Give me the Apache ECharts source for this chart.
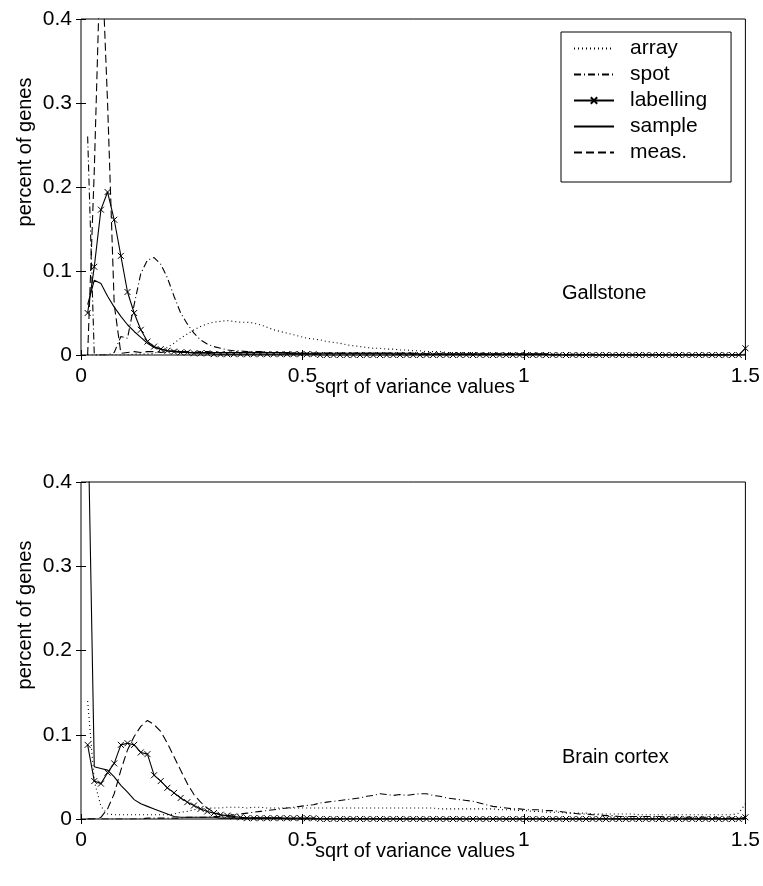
<!DOCTYPE html>
<html><head><meta charset="utf-8">
<script src="https://cdn.jsdelivr.net/npm/echarts@6/dist/echarts.min.js"></script>
<style>html,body{margin:0;padding:0;background:#fff}#c{width:763px;height:886px}</style>
</head><body><div id="c"></div>
<script>
// x positions of the histogram bins
const xGrid = [
0.015,0.03,0.045,0.06,0.075,0.09,0.105,0.12,0.135,0.15,
0.165,0.18,0.195,0.21,0.225,0.24,0.255,0.27,0.285,0.3,
0.315,0.33,0.345,0.36,0.375,0.39,0.405,0.42,0.435,0.45,
0.465,0.48,0.495,0.51,0.525,0.54,0.555,0.57,0.585,0.6,
0.615,0.63,0.645,0.66,0.675,0.69,0.705,0.72,0.735,0.75,
0.765,0.78,0.795,0.81,0.825,0.84,0.855,0.87,0.885,0.9,
0.915,0.93,0.945,0.96,0.975,0.99,1.005,1.02,1.035,1.05,
1.065,1.08,1.095,1.11,1.125,1.14,1.155,1.17,1.185,1.2,
1.215,1.23,1.245,1.26,1.275,1.29,1.305,1.32,1.335,1.35,
1.365,1.38,1.395,1.41,1.425,1.44,1.455,1.47,1.485,1.5];

const seriesNames = ['array','spot','labelling','sample','meas.'];
const panelTitles = ['Gallstone', 'Brain cortex'];
const xTitle = 'sqrt of variance values';
const yTitle = 'percent of genes';

// ---- Gallstone ----
const gallArray = [
0,0,0,0,0,0,0,0.001,0.001,0.001,
0.002,0.005,0.009,0.014,0.020,0.025,0.030,0.034,0.037,0.039,
0.040,0.041,0.040,0.039,0.039,0.038,0.036,0.033,0.030,0.028,
0.026,0.024,0.022,0.020,0.019,0.018,0.016,0.015,0.014,0.012,
0.011,0.010,0.009,0.008,0.008,0.007,0.007,0.006,0.006,0.005,
0.005,0.004,0.004,0.004,0.003,0.003,0.003,0.003,0.003,0.002,
0.002,0.002,0.002,0.002,0.002,0.001,0.001,0.001,0.001,0.001,
0.001,0.001,0.001,0.001,0.001,0.001,0.001,0,0,0,
0,0,0,0,0,0,0,0,0,0,
0,0,0,0,0,0,0,0,0,0.001];
const gallSpot = [
0.260,0,0,0,0.003,0.022,0.020,0.060,0.097,0.113,
0.116,0.108,0.092,0.070,0.050,0.037,0.026,0.018,0.013,0.010,
0.008,0.006,0.005,0.005,0.004,0.004,0.004,0.003,0.003,0.003,
0.003,0.003,0.002,0.002,0.002,0.002,0.002,0.002,0.002,0.002,
0.002,0.002,0.002,0.002,0.002,0.002,0.001,0.001,0.001,0.001,
0.001,0.001,0.001,0.001,0.001,0.001,0.001,0.001,0.001,0.001,
0.001,0.001,0.001,0.001,0.001,0.001,0.001,0.001,0.001,0.001,
0,0,0,0,0,0,0,0,0,0,
0,0,0,0,0,0,0,0,0,0,
0,0,0,0,0,0,0,0,0,0];
const gallLabel = [
0.050,0.105,0.173,0.194,0.161,0.118,0.075,0.050,0.030,0.016,
0.010,0.007,0.005,0.004,0.003,0.003,0.002,0.002,0.002,0.001,
0.001,0.001,0.001,0.001,0.001,0.001,0.001,0.001,0.001,0.001,
0.001,0.001,0.001,0.001,0.001,0,0,0,0,0,
0,0,0,0,0,0,0,0,0,0,
0,0,0,0,0,0,0,0,0,0,
0,0,0,0,0,0,0,0,0,0,
0,0,0,0,0,0,0,0,0,0,
0,0,0,0,0,0,0,0,0,0,
0,0,0,0,0,0,0,0,0,0.008];
const gallSample = [
0.060,0.089,0.085,0.070,0.057,0.046,0.036,0.028,0.021,0.014,
0.009,0.007,0.005,0.004,0.004,0.003,0.003,0.003,0.003,0.003,
0.003,0.003,0.003,0.003,0.003,0.003,0.003,0.003,0.003,0.003,
0.002,0.002,0.002,0.002,0.002,0.002,0.002,0.002,0.002,0.002,
0.002,0.002,0.002,0.002,0.002,0.002,0.002,0.002,0.002,0.002,
0.001,0.001,0.001,0.001,0.001,0.001,0.001,0.001,0.001,0.001,
0.001,0.001,0.001,0.001,0.001,0.001,0.001,0.001,0.001,0.001,
0,0,0,0,0,0,0,0,0,0,
0,0,0,0,0,0,0,0,0,0,
0,0,0,0,0,0,0,0,0,0];
const gallMeas = [
0,0.220,0.500,0.300,0.060,0.002,0.003,0.004,0.003,0.004,
0.004,0.003,0.004,0.005,0.004,0.004,0.003,0.004,0.004,0.003,
0.003,0.003,0.003,0.003,0.003,0.003,0.003,0.003,0.003,0.003,
0.002,0.002,0.002,0.002,0.002,0.002,0.002,0.002,0.002,0.002,
0.002,0.002,0.002,0.002,0.002,0.002,0.002,0.002,0.002,0.002,
0.001,0.001,0.001,0.001,0.001,0.001,0.001,0.001,0.001,0.001,
0.001,0.001,0.001,0.001,0.001,0.001,0.001,0.001,0.001,0.001,
0,0,0,0,0,0,0,0,0,0,
0,0,0,0,0,0,0,0,0,0,
0,0,0,0,0,0,0,0,0,0];

// ---- Brain cortex ----
const brainArray = [
0.140,0.045,0.015,0.006,0.005,0.005,0.005,0.005,0.005,0.005,
0.005,0.005,0.005,0.006,0.008,0.009,0.011,0.012,0.013,0.013,
0.013,0.014,0.014,0.014,0.013,0.014,0.014,0.013,0.013,0.013,
0.013,0.013,0.013,0.013,0.013,0.013,0.013,0.013,0.013,0.013,
0.013,0.013,0.013,0.013,0.013,0.013,0.013,0.013,0.013,0.013,
0.013,0.013,0.013,0.012,0.012,0.012,0.012,0.012,0.012,0.012,
0.012,0.012,0.011,0.011,0.011,0.010,0.010,0.009,0.009,0.008,
0.008,0.008,0.007,0.007,0.007,0.007,0.006,0.006,0.006,0.006,
0.006,0.006,0.006,0.005,0.005,0.005,0.005,0.005,0.005,0.005,
0.005,0.005,0.005,0.005,0.005,0.005,0.005,0.005,0.007,0.018];
const brainSpot = [
0,0,0,0,0,0,0,0,0,0.001,
0.001,0.001,0.001,0.001,0.001,0.002,0.002,0.002,0.002,0.003,
0.003,0.004,0.005,0.006,0.007,0.008,0.009,0.010,0.011,0.012,
0.013,0.014,0.015,0.016,0.017,0.019,0.020,0.021,0.022,0.023,
0.024,0.025,0.027,0.028,0.030,0.029,0.028,0.029,0.028,0.029,
0.030,0.030,0.028,0.027,0.025,0.024,0.023,0.022,0.021,0.019,
0.017,0.015,0.014,0.013,0.012,0.012,0.011,0.011,0.011,0.010,
0.010,0.009,0.008,0.007,0.006,0.006,0.005,0.005,0.004,0.004,
0.003,0.003,0.003,0.003,0.003,0.003,0.003,0.002,0.002,0.002,
0.002,0.002,0.002,0.002,0.002,0.001,0.001,0.001,0.001,0.001];
const brainLabel = [
0.088,0.045,0.042,0.055,0.066,0.088,0.090,0.088,0.079,0.077,
0.052,0.045,0.037,0.031,0.025,0.020,0.016,0.012,0.009,0.007,
0.005,0.004,0.003,0.002,0.001,0.001,0.001,0.001,0.001,0.001,
0.001,0.001,0.001,0.001,0.001,0,0,0,0,0,
0,0,0,0,0,0,0,0,0,0,
0,0,0,0,0,0,0,0,0,0,
0,0,0,0,0,0,0,0,0,0,
0,0,0,0,0,0,0,0,0,0,
0,0,0,0,0,0,0,0,0,0,
0,0,0,0,0,0,0,0,0,0.002];
const brainSample = [
0.500,0.062,0.060,0.058,0.050,0.040,0.032,0.023,0.018,0.015,
0.012,0.009,0.006,0.003,0.002,0.002,0.002,0.002,0.002,0.002,
0.001,0.001,0.001,0.001,0.001,0.001,0.001,0.001,0.001,0.001,
0,0,0,0,0,0,0,0,0,0,
0,0,0,0,0,0,0,0,0,0,
0,0,0,0,0,0,0,0,0,0,
0,0,0,0,0,0,0,0,0,0,
0,0,0,0,0,0,0,0,0,0,
0,0,0,0,0,0,0,0,0,0,
0,0,0,0,0,0,0,0,0,0];
const brainMeas = [
0,0,0.002,0.012,0.030,0.058,0.082,0.098,0.110,0.117,
0.112,0.104,0.090,0.074,0.058,0.042,0.029,0.020,0.013,0.008,
0.005,0.003,0.002,0.001,0.001,0.001,0.001,0.001,0.001,0.001,
0,0,0,0,0,0,0,0,0,0,
0,0,0,0,0,0,0,0,0,0,
0,0,0,0,0,0,0,0,0,0,
0,0,0,0,0,0,0,0,0,0,
0,0,0,0,0,0,0,0,0,0,
0,0,0,0,0,0,0,0,0,0,
0,0,0,0,0,0,0,0,0,0];

const panels = [
  [gallArray, gallSpot, gallLabel, gallSample, gallMeas],
  [brainArray, brainSpot, brainLabel, brainSample, brainMeas]
];

const FONT = '"Liberation Sans", Arial, sans-serif';
const FS = 21;
const fmt = v => String(parseFloat(Number(v).toFixed(3)));

const lineTypes = [[1,3],[7,3,1,3],'solid','solid',[8,4]];
const xSym = 'path://M0,0L10,10M10,0L0,10';

const grids = [
  {left:81, top:19, width:669, height:336},
  {left:81, top:482, width:669, height:337}
].map(g => Object.assign({show:true, borderColor:'#000', borderWidth:1, backgroundColor:'#fff'}, g));

const xAxes = [], yAxes = [];
[0,1].forEach(gi => {
  ['bottom','top'].forEach((pos, k) => {
    xAxes.push({gridIndex:gi, type:'value', min:0, max:1.5, interval:0.5, position:pos,
      axisLine:{show:false}, splitLine:{show:false},
      axisTick:{show:true, inside:true, length:5, lineStyle:{color:'#000', width:1}},
      axisLabel:{show:k===0, margin:11, color:'#000', fontSize:FS, fontFamily:FONT, formatter:fmt}
    });
  });
  ['left','right'].forEach((pos, k) => {
    yAxes.push({gridIndex:gi, type:'value', min:0, max:0.4, interval:0.1, position:pos,
      axisLine:{show:false}, splitLine:{show:false},
      axisTick:{show:true, inside:true, length:5, lineStyle:{color:'#000', width:1}},
      axisLabel:{show:k===0, margin:9, color:'#000', fontSize:FS, fontFamily:FONT, formatter:fmt}
    });
  });
});

const series = [];
panels.forEach((arrs, pi) => {
  arrs.forEach((arr, si) => {
    const isLab = si === 2;
    series.push({
      name: seriesNames[si], type:'line',
      xAxisIndex: pi*2, yAxisIndex: pi*2,
      data: xGrid.map((x,i) => [x, arr[i]]),
      symbol: isLab ? xSym : 'none', symbolSize: 6, showAllSymbol: true, symbolKeepAspect: true,
      itemStyle: {color:'#000', borderColor:'#000', borderWidth: isLab ? 1 : 0},
      lineStyle: {color:'#000', width:1.1, type: lineTypes[si]},
      clip: true, animation:false, z: 3
    });
  });
});

const graphic = [];
[[25,152],[25,615]].forEach(([x,y]) => graphic.push({type:'text', x:x, y:y, rotation:Math.PI/2,
  style:{text:yTitle, font:'20px '+FONT, fill:'#000', align:'center', verticalAlign:'middle'}}));
[[415,387],[415,851]].forEach(([x,y]) => graphic.push({type:'text', x:x, y:y,
  style:{text:xTitle, font:'20px '+FONT, fill:'#000', align:'center', verticalAlign:'middle'}}));
[[562,293],[562,757]].forEach(([x,y],i) => graphic.push({type:'text', x:x, y:y, z:10,
  style:{text:panelTitles[i], font:'20px '+FONT, fill:'#000', align:'left', verticalAlign:'middle'}}));

const legendData = seriesNames.map((n, i) => i === 2
  ? {name:n}
  : {name:n, itemStyle:{opacity:0}});

const chart = echarts.init(document.getElementById('c'), null, {renderer:'canvas'});
chart.setOption({
  animation:false,
  backgroundColor:'#fff',
  grid: grids,
  xAxis: xAxes,
  yAxis: yAxes,
  legend: {
    data: legendData, orient:'vertical', left:561, top:32,
    backgroundColor:'#fff', borderColor:'#000', borderWidth:1,
    padding:[6, 24, 19, 12], itemGap:5, itemWidth:40, itemHeight:8,
    textStyle:{fontSize:FS, fontFamily:FONT, color:'#000', padding:[0,0,0,11]},
    selectedMode:false
  },
  series: series,
  graphic: graphic
});
</script></body></html>
